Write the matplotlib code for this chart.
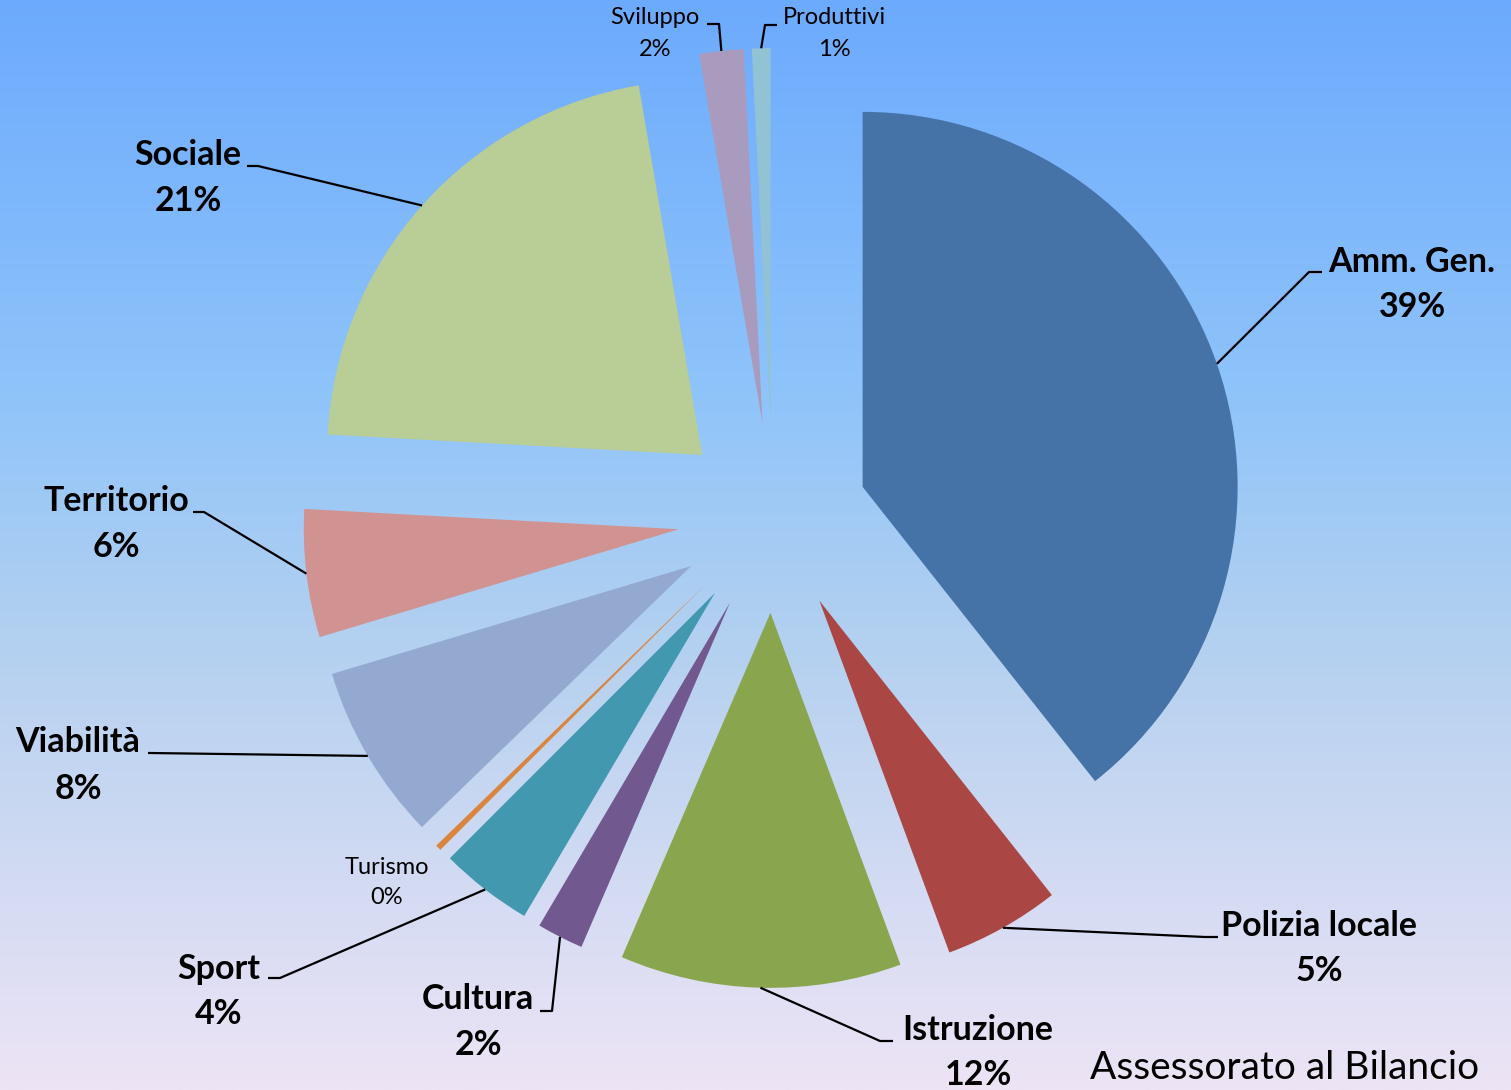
import numpy as np
import matplotlib
matplotlib.use("Agg")
import matplotlib.pyplot as plt
from matplotlib.colors import LinearSegmentedColormap

# ---- data ----
categories = ["Amm. Gen.", "Polizia locale", "Istruzione", "Cultura", "Sport", "Turismo",
              "Viabilità", "Territorio", "Sociale", "Sviluppo", "Produttivi"]
values = [39.3, 5.0, 12.1, 2.0, 4.0, 0.25, 7.6, 5.5, 21.4, 1.9, 0.8]
colors = ["#4572A7", "#AA4643", "#89A54E", "#71588F", "#4198AF", "#DB843D",
          "#93A9CF", "#D19392", "#B9CD96", "#A99BBD", "#91C3D5"]
bold = [True, True, True, True, True, False, True, True, True, False, False]

W, H = 1511, 1090
fig = plt.figure(figsize=(W / 100, H / 100), dpi=100)
ax = fig.add_axes([0, 0, 1, 1])

# background gradient
stops = [(0.0, (237/255, 228/255, 245/255)),
         (0.42, (178/255, 208/255, 240/255)),
         (0.64, (143/255, 196/255, 250/255)),
         (1.0, (108/255, 170/255, 253/255))]
cmap = LinearSegmentedColormap.from_list("bg", stops)
grad = np.linspace(0, 1, 512).reshape(-1, 1)
ax.imshow(grad, extent=(0, W, 0, H), origin="lower", cmap=cmap, aspect="auto", zorder=0)

cx, cy, R = 773, H - 518, 375
explode_dist = 0.253 * R  # matplotlib explode is in data units
wedges, _ = ax.pie(values, colors=colors, startangle=90, counterclock=False,
                   explode=[explode_dist] * len(values), center=(cx, cy), radius=R,
                   wedgeprops=dict(linewidth=0), frame=True)
for w in wedges:
    w.set_zorder(2)
ax.set_xlim(0, W)
ax.set_ylim(0, H)
ax.set_aspect("equal")
ax.axis("off")

total = sum(values)
pcts = [f"{round(v / total * 100):d}%" for v in values]

# layout (image pixel coords, y down): text name centre, pct centre, elbow, end
layout = {
    "Amm. Gen.":      ((1412, 262), (1412, 307), (1309, 272), (1322, 272)),
    "Polizia locale": ((1319, 926), (1319, 971), (1205, 937), (1218, 937)),
    "Istruzione":     ((978, 1030), (978, 1075), (880, 1041), (893, 1041)),
    "Cultura":        ((478, 999), (478, 1045), (552, 1011), (540, 1011)),
    "Sport":          ((219, 969), (219, 1014), (280, 978), (268, 978)),
    "Turismo":        ((387, 867), (387, 898), None, None),
    "Viabilità":      ((78, 742), (78, 789), (150, 753), (148, 753)),
    "Territorio":     ((116, 501), (116, 547), (204, 512), (193, 512)),
    "Sociale":        ((188, 155), (188, 201), (258, 166), (247, 166)),
    "Sviluppo":       ((655, 18), (655, 50), (719, 24), (707, 24)),
    "Produttivi":     ((834, 18), (834, 50), (765, 25), (777, 25)),
}

for w, name, pct, b in zip(wedges, categories, pcts, bold):
    (nx, ny), (px, py), elbow, end = layout[name]
    fs = 24.5 if b else 17
    fw = "bold" if b else "normal"
    ax.text(nx, H - ny, name, ha="center", va="center", fontsize=fs, fontweight=fw,
            family="Lato", color="black", zorder=4)
    ax.text(px, H - py, pct, ha="center", va="center", fontsize=fs, fontweight=fw,
            family="Lato", color="black", zorder=4)
    if elbow is not None:
        mid = np.deg2rad((w.theta1 + w.theta2) / 2)
        ox, oy = w.center
        ax0 = ox + w.r * np.cos(mid)
        ay0 = oy + w.r * np.sin(mid)
        ax.plot([ax0, elbow[0], end[0]], [ay0, H - elbow[1], H - end[1]],
                color="black", lw=1.6, zorder=3, solid_capstyle="butt")

ax.text(1285, H - 1068, "Assessorato al Bilancio", ha="center", va="center",
        fontsize=28, family="Lato", color="black", zorder=4)

fig.savefig("out.png", dpi=100)
